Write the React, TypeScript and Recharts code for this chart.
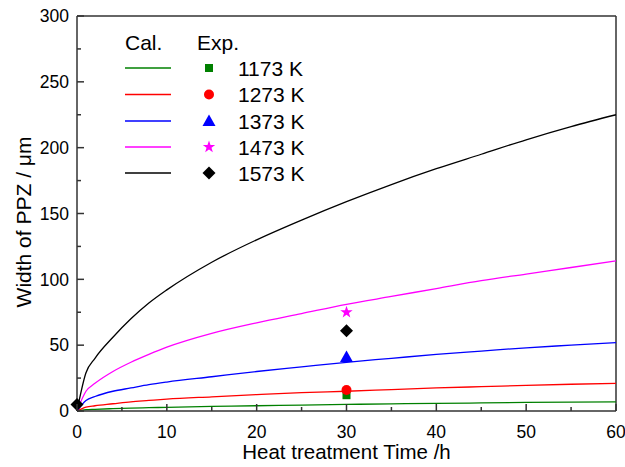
import React from 'react';
import { ComposedChart, Line, Scatter, XAxis, YAxis, ReferenceLine } from 'recharts';

const times = [0, 1, 2, 4, 6, 8, 10, 15, 20, 25, 30, 35, 40, 45, 50, 55, 60];
const cal1173 = [0, 1, 1.3, 1.8, 2.2, 2.5, 2.8, 3.5, 4, 4.5, 5, 5.4, 5.8, 6.1, 6.5, 6.8, 7];
const cal1273 = [0, 3, 4, 5.5, 7, 8, 9, 10.8, 12.5, 14, 15, 16.3, 17.5, 18.5, 19.5, 20.3, 21];
const cal1373 = [0, 8, 11, 15, 17.5, 20, 22, 26, 30, 33.5, 37, 40, 43, 45.5, 48, 50, 52];
const cal1473 = [0, 15, 21, 30, 37, 43, 48.5, 59, 67, 74, 81, 87, 93, 99, 104, 109, 114];
const cal1573 = [0, 29, 40, 56, 70, 82, 92, 113, 130, 145, 159, 172, 184, 195, 206, 216, 225];

const exp1173 = [{ t: 30, v: 12 }];
const exp1273 = [{ t: 30, v: 16 }];
const exp1373 = [{ t: 30, v: 41 }];
const exp1473 = [{ t: 30, v: 75 }];
const exp1573 = [{ t: 0, v: 5 }, { t: 30, v: 61 }];

const xTicks = [0, 5, 10, 15, 20, 25, 30, 35, 40, 45, 50, 55, 60];
const yTicks = [0, 25, 50, 75, 100, 125, 150, 175, 200, 225, 250, 275, 300];
const legendLabels = ['1173 K', '1273 K', '1373 K', '1473 K', '1573 K'];
const colors = ['#008000', '#ff0000', '#0000ff', '#ff00ff', '#000000'];

const table = times.map((t, i) => ({
  t,
  c1173: cal1173[i],
  c1273: cal1273[i],
  c1373: cal1373[i],
  c1473: cal1473[i],
  c1573: cal1573[i],
}));

const FONT = '"Liberation Sans", Arial, sans-serif';
const AX = '#333333';

const Square = ({ cx, cy, fill }: any) => <rect x={cx - 4} y={cy - 4} width={8} height={8} fill={fill} />;
const Circ = ({ cx, cy, fill }: any) => <circle cx={cx} cy={cy} r={5} fill={fill} />;
const Tri = ({ cx, cy, fill }: any) => (
  <polygon points={`${cx},${cy - 6.5} ${cx - 6.5},${cy + 5} ${cx + 6.5},${cy + 5}`} fill={fill} />
);
const starPts = (cx: number, cy: number, ro: number, ri: number) => {
  const p: string[] = [];
  for (let k = 0; k < 10; k++) {
    const r = k % 2 === 0 ? ro : ri;
    const a = -Math.PI / 2 + (k * Math.PI) / 5;
    p.push(`${cx + r * Math.cos(a)},${cy + r * Math.sin(a)}`);
  }
  return p.join(' ');
};
const Star = ({ cx, cy, fill }: any) => <polygon points={starPts(cx, cy, 6.5, 2.6)} fill={fill} />;
const Diamond = ({ cx, cy, fill }: any) => (
  <polygon points={`${cx},${cy - 6.5} ${cx + 6.5},${cy} ${cx},${cy + 6.5} ${cx - 6.5},${cy}`} fill={fill} />
);
const shapes = [Square, Circ, Tri, Star, Diamond];

const XTick = ({ x, y, payload }: any) => {
  const major = payload.value % 10 === 0;
  return (
    <g>
      <line x1={x} x2={x} y1={y} y2={y - (major ? 7 : 4)} stroke={AX} strokeWidth={1.5} />
      {major && (
        <text x={x} y={y + 26.5} textAnchor="middle" fontSize={17.5} fontFamily={FONT} fill="#000">
          {payload.value}
        </text>
      )}
    </g>
  );
};
const YTick = ({ x, y, payload }: any) => {
  const major = payload.value % 50 === 0;
  return (
    <g>
      <line x1={x} x2={x + (major ? 7 : 4)} y1={y} y2={y} stroke={AX} strokeWidth={1.5} />
      {major && (
        <text x={x - 8} y={y + 6.3} textAnchor="end" fontSize={17.5} fontFamily={FONT} fill="#000">
          {payload.value}
        </text>
      )}
    </g>
  );
};

const YTitle = () => (
  <text
    x={0}
    y={0}
    transform="translate(30.5, 222) rotate(-90)"
    textAnchor="middle"
    fontSize={21}
    fontFamily={FONT}
    fill="#000"
  >
    Width of PPZ / μm
  </text>
);

const LegendOverlay = () => {
  const rows = [68, 94.5, 121, 147, 173];
  return (
    <svg width={625} height={467} style={{ position: 'absolute', left: 0, top: 0, pointerEvents: 'none' }}>
      <text x={125} y={49.5} fontSize={21} fontFamily={FONT} fill="#000">Cal.</text>
      <text x={197} y={49.5} fontSize={21} fontFamily={FONT} fill="#000">Exp.</text>
      {rows.map((ry, i) => {
        const S = shapes[i];
        return (
          <g key={i}>
            <line x1={125} x2={171} y1={ry} y2={ry} stroke={colors[i]} strokeWidth={1.3} />
            <S cx={209} cy={ry} fill={colors[i]} />
            <text x={238} y={ry + 7.5} fontSize={21} fontFamily={FONT} fill="#000">{legendLabels[i]}</text>
          </g>
        );
      })}
    </svg>
  );
};

export default function App() {
  const keys = ['c1173', 'c1273', 'c1373', 'c1473', 'c1573'];
  const exps = [exp1173, exp1273, exp1373, exp1473, exp1573];
  return (
    <div style={{ position: 'absolute', left: 0, top: 0, width: 625, height: 467, background: '#fff' }}>
      <ComposedChart width={625} height={467} data={table} margin={{ top: 16, right: 9, bottom: 0, left: 0 }}>
        <XAxis
          dataKey="t"
          type="number"
          domain={[0, 60]}
          ticks={xTicks}
          interval={0}
          height={56}
          tickSize={0}
          tickMargin={0}
          tickLine={false}
          tick={<XTick />}
          axisLine={{ stroke: AX, strokeWidth: 1.5 }}
          label={{ value: 'Heat treatment Time /h', position: 'insideBottom', offset: 8, fontSize: 20.5, fontFamily: FONT, fill: '#000' }}
        />
        <YAxis
          type="number"
          domain={[0, 300]}
          ticks={yTicks}
          interval={0}
          width={77}
          tickSize={0}
          tickMargin={0}
          tickLine={false}
          tick={<YTick />}
          axisLine={{ stroke: AX, strokeWidth: 1.5 }}
          label={<YTitle />}
        />
        <ReferenceLine y={300} stroke={AX} strokeWidth={1.5} />
        <ReferenceLine x={60} stroke={AX} strokeWidth={1.5} />
        {keys.map((k, i) => (
          <Line key={k} dataKey={k} type="monotone" stroke={colors[i]} strokeWidth={1.3} dot={false} isAnimationActive={false} />
        ))}
        {exps.map((d, i) => (
          <Scatter key={i} data={d} dataKey="v" fill={colors[i]} shape={shapes[i]} isAnimationActive={false} />
        ))}
      </ComposedChart>
      <LegendOverlay />
    </div>
  );
}
